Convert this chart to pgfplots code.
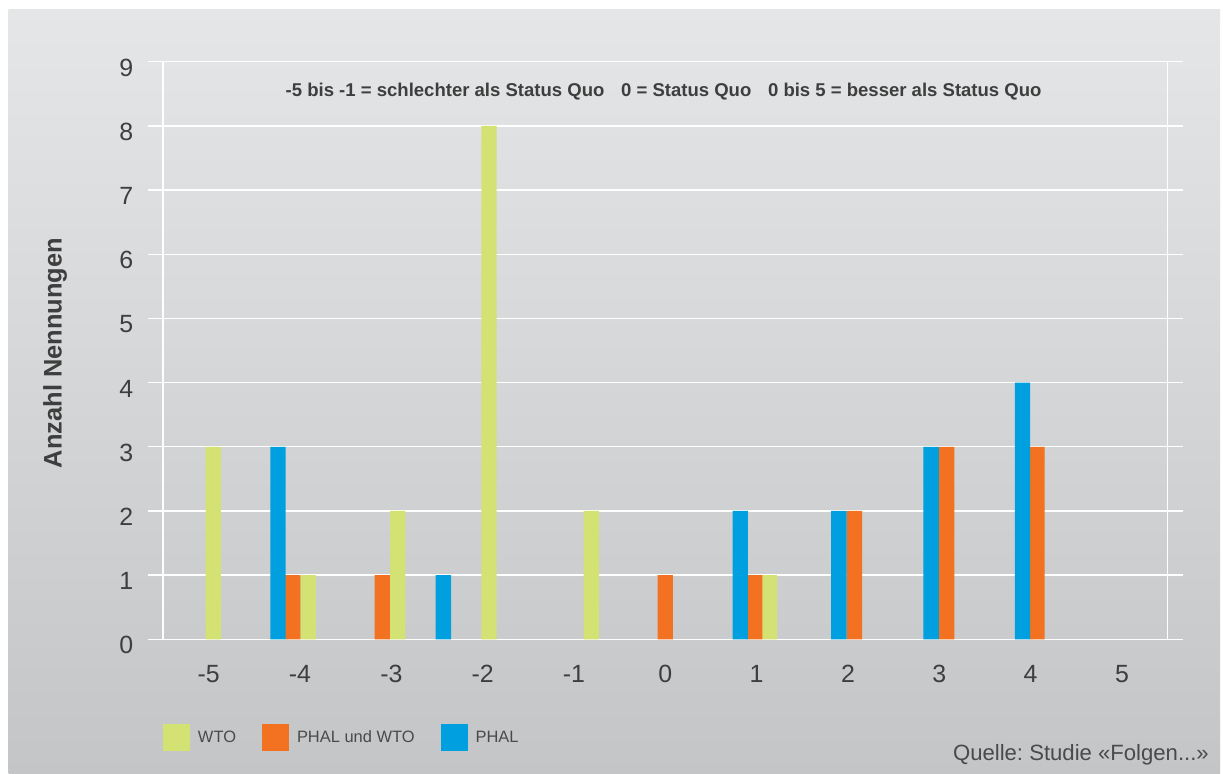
\documentclass[border=0pt]{standalone}
\usepackage{fontspec}
\setmainfont{Liberation Sans}
\usepackage{pgfplots}
\pgfplotsset{compat=1.18}

\definecolor{bgTop}{RGB}{229,230,231}
\definecolor{bgBot}{RGB}{196,197,199}
\definecolor{cWTO}{RGB}{212,225,115}
\definecolor{cBoth}{RGB}{242,114,34}
\definecolor{cPHAL}{RGB}{0,159,223}
\definecolor{txt}{RGB}{62,62,62}
\definecolor{legtxt}{RGB}{74,74,74}

\begin{document}
\frenchspacing
\begin{tikzpicture}
% page and panel
\fill[white] (0bp,0bp) rectangle (1223bp,774bp);
\shade[top color=bgTop, bottom color=bgBot] (8.7bp,0bp) rectangle (1220bp,764.3bp);

\begin{axis}[
  at={(163bp,134.7bp)}, anchor=south west,
  scale only axis, width=1004.7bp, height=577.6bp,
  xmin=-5.5, xmax=5.5, ymin=0, ymax=9,
  xtick={-5,-4,-3,-2,-1,0,1,2,3,4,5},
  ytick={0,1,2,3,4,5,6,7,8,9},
  /pgf/number format/assume math mode=true,
  axis line style={white, line width=1.3bp},
  ymajorgrids, grid style={white, line width=1.3bp},
  tick align=outside, major tick length=15bp,
  ytick style={white, line width=1.3bp},
  xtick style={draw=none},
  ticklabel style={font=\fontsize{25}{30}\selectfont, text=txt},
  yticklabel style={anchor=east, inner sep=0pt, xshift=-14.5bp, yshift=-6bp},
  xticklabel style={anchor=north, inner sep=0pt, yshift=-10.7bp},
  legend columns=3,
  legend style={draw=none, fill=none, inner sep=0pt, outer sep=0pt,
    at={(axis description cs:0,0)}, anchor=west,
    xshift=0bp, yshift=-98.2bp,
    font=\fontsize{16.5}{20}\selectfont, text=legtxt,
    /tikz/every odd column/.append style={column sep=6bp},
    /tikz/every even column/.append style={column sep=24bp}},
  legend image code/.code={\fill[#1] (0bp,-13.5bp) rectangle (27bp,13.5bp);},
]
% WTO
\addplot[ybar, bar width=15.3bp, bar shift=0pt, fill=cWTO, draw=none]
  coordinates {(-4.95,3) (-3.91,1) (-2.93,2) (-1.93,8) (-0.81,2) (1.14,1)};
\addlegendentry{WTO}
% PHAL und WTO
\addplot[ybar, bar width=15.3bp, bar shift=0pt, fill=cBoth, draw=none]
  coordinates {(-4.08,1) (-3.10,1) (0.00,1) (0.98,1) (2.07,2) (3.08,3) (4.07,3)};
\addlegendentry{PHAL und WTO}
% PHAL
\addplot[ybar, bar width=15.3bp, bar shift=0pt, fill=cPHAL, draw=none]
  coordinates {(-4.24,3) (-2.43,1) (0.82,2) (1.90,2) (2.91,3) (3.91,4)};
\addlegendentry{PHAL}
\end{axis}

% axis title, explanation line and source
\node[rotate=90, text=txt, font=\bfseries\fontsize{25.5}{30}\selectfont]
  at (55bp,421bp) {Anzahl Nennungen};
\node[anchor=base, text=txt, font=\bfseries\fontsize{18.6}{22}\selectfont]
  at (663.6bp,677.3bp)
  {-5 bis -1 = schlechter als Status Quo\hspace{16.7bp}0 = Status Quo\hspace{16.7bp}0 bis 5 = besser als Status Quo};
\node[anchor=base east, inner sep=0pt, text=legtxt, font=\fontsize{22.2}{26}\selectfont]
  at (1209bp,14bp) {Quelle: Studie «Folgen...»};
\end{tikzpicture}
\end{document}
